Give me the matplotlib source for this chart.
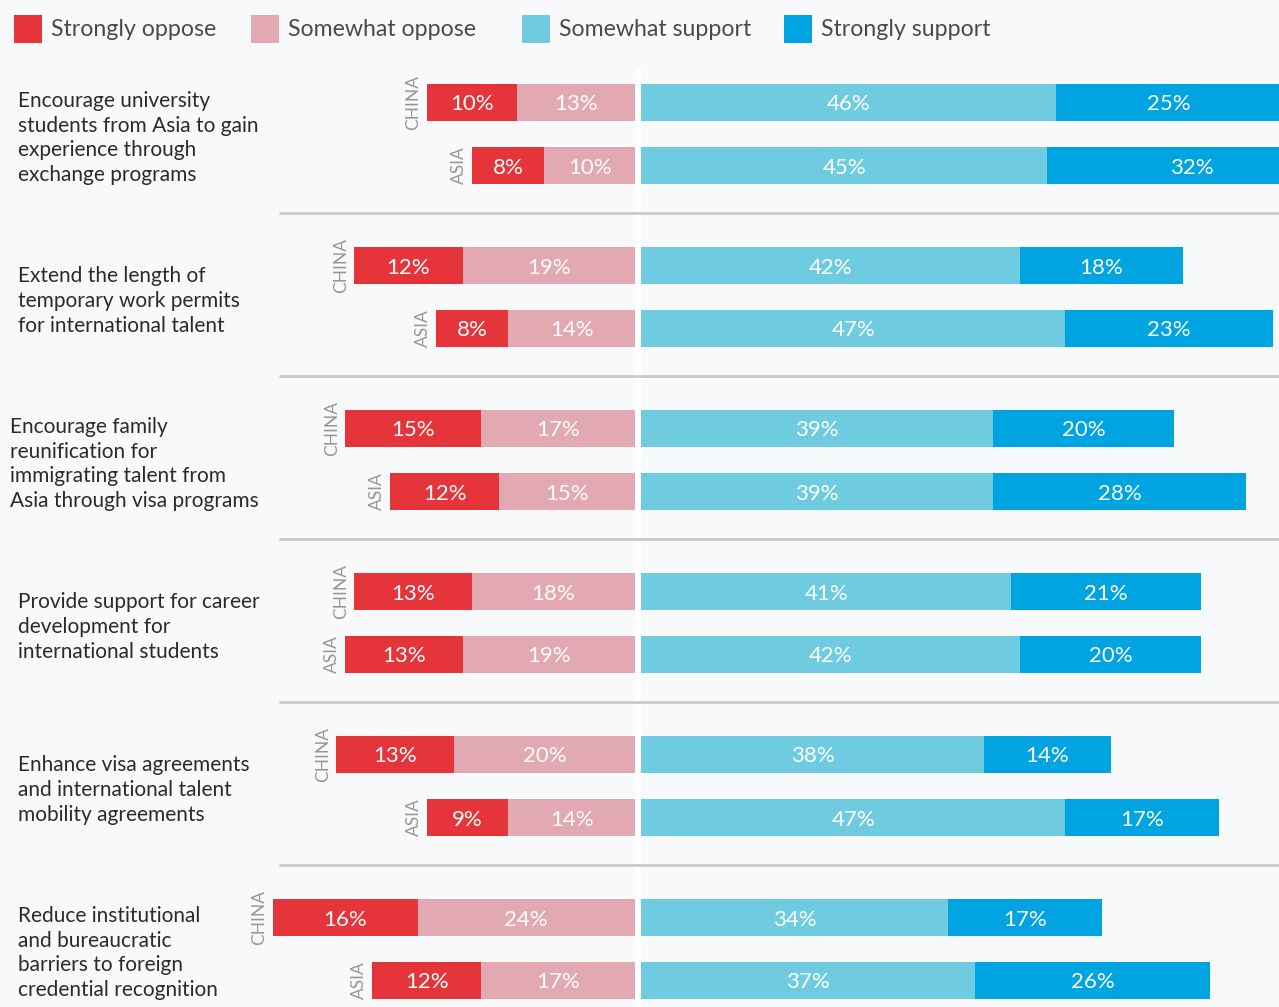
import matplotlib
matplotlib.use("Agg")
import matplotlib.pyplot as plt
from matplotlib.patches import Rectangle

plt.rcParams['font.family'] = ['Lato', 'DejaVu Sans']

# ---------------- data ----------------
categories = [
    "Encourage university\nstudents from Asia to gain\nexperience through\nexchange programs",
    "Extend the length of\ntemporary work permits\nfor international talent",
    "Encourage family\nreunification for\nimmigrating talent from\nAsia through visa programs",
    "Provide support for career\ndevelopment for\ninternational students",
    "Enhance visa agreements\nand international talent\nmobility agreements",
    "Reduce institutional\nand bureaucratic\nbarriers to foreign\ncredential recognition",
]
regions = ["CHINA", "ASIA"]
series_names = ["Strongly oppose", "Somewhat oppose", "Somewhat support", "Strongly support"]

# [China, Asia] per category
strongly_oppose = [[10, 8], [12, 8], [15, 12], [13, 13], [13, 9], [16, 12]]
somewhat_oppose = [[13, 10], [19, 14], [17, 15], [18, 19], [20, 14], [24, 17]]
somewhat_support = [[46, 45], [42, 47], [39, 39], [41, 42], [38, 47], [34, 37]]
strongly_support = [[25, 32], [18, 23], [20, 28], [21, 20], [14, 17], [17, 26]]

colors = ["#E5353B", "#E2A9B2", "#6FCCE0", "#00A4E1"]
label_x = [18, 18, 10, 18, 18, 18]  # pixel x of category text

# ---------------- layout ----------------
W, H = 1279, 1007
PX_PER_PCT_L = 9.06
PX_PER_PCT_R = 9.03
Y0_PX, GROUP_PX, SUB_PX = 102.5, 163.0, 63.0
BAR_H = 37.0 / GROUP_PX
SUB = SUB_PX / GROUP_PX
ytop = -Y0_PX / GROUP_PX
ybot = (H - Y0_PX) / GROUP_PX
BG = "#F8F9FB"

fig = plt.figure(figsize=(W / 100, H / 100), dpi=100, facecolor=BG)

# background axes in pixel x, data y
bg = fig.add_axes([0, 0, 1, 1], facecolor=BG)
bg.set_xlim(0, W)
bg.set_ylim(ybot, ytop)
bg.axis('off')
bg.add_patch(Rectangle((635, (68 - Y0_PX) / GROUP_PX), 6, ybot + 1, color="white", zorder=1, lw=0))
for i in range(len(categories) - 1):
    ys = i + 0.678
    bg.plot([279, W], [ys, ys], color="#C9C9CD", lw=2, zorder=2, solid_capstyle='butt')

left_w = 635
right_l = 641
axL = fig.add_axes([0, 0, left_w / W, 1], facecolor='none')
axR = fig.add_axes([right_l / W, 0, (W - right_l) / W, 1], facecolor='none')
axL.set_xlim(-left_w / PX_PER_PCT_L, 0)
axR.set_xlim(0, (W - right_l) / PX_PER_PCT_R)
for ax in (axL, axR):
    ax.set_ylim(ybot, ytop)
    ax.axis('off')

lab_kw = dict(color="white", ha="center", va="center_baseline", fontsize=16, zorder=5)

for i in range(len(categories)):
    for j, reg in enumerate(regions):
        y = i + j * SUB
        so = strongly_oppose[i][j]
        wo = somewhat_oppose[i][j]
        ws = somewhat_support[i][j]
        ss = strongly_support[i][j]
        # left (oppose)
        axL.barh(y, -wo, left=0, height=BAR_H, color=colors[1], lw=0, zorder=3)
        axL.barh(y, -so, left=-wo, height=BAR_H, color=colors[0], lw=0, zorder=3)
        axL.text(-wo / 2, y, f"{wo}%", **lab_kw)
        axL.text(-wo - so / 2, y, f"{so}%", **lab_kw)
        # right (support)
        axR.barh(y, ws, left=0, height=BAR_H, color=colors[2], lw=0, zorder=3)
        axR.barh(y, ss, left=ws, height=BAR_H, color=colors[3], lw=0, zorder=3)
        axR.text(ws / 2, y, f"{ws}%", **lab_kw)
        axR.text(ws + ss / 2, y, f"{ss}%", **lab_kw)
        # region label
        axL.annotate(reg, xy=(-(so + wo), y), xytext=(-5, 0), textcoords="offset pixels",
                     rotation=90, ha="right", va="center", fontsize=12.5, color="#979797",
                     annotation_clip=False)
    # category label
    yc = i + SUB / 2 + 4 / GROUP_PX
    bg.text(label_x[i], yc, categories[i], ha="left", va="center", fontsize=15,
            color="#2B2B2B", linespacing=1.3)

# ---------------- legend ----------------
sq_x = [14, 251, 522, 784]
for k, name in enumerate(series_names):
    fig.patches.append(Rectangle((sq_x[k] / W, 1 - 43 / H), 28 / W, 28 / H,
                                 transform=fig.transFigure, color=colors[k], lw=0))
    fig.text((sq_x[k] + 37) / W, 1 - 29 / H, name, ha="left", va="center",
             fontsize=16.7, color="#4A4A4A")

fig.savefig("out.png", dpi=100, facecolor=BG)
